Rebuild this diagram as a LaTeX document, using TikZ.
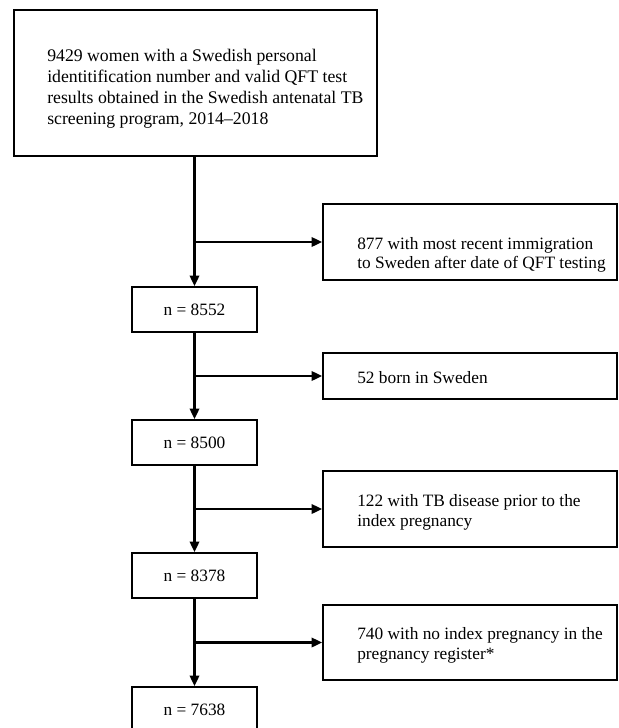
\documentclass[tikz,border=0pt]{standalone}
\usepackage{fontspec}
\setmainfont{Liberation Serif}
\usetikzlibrary{arrows.meta,calc}
\begin{document}
\begin{tikzpicture}[x=0.75pt,y=-0.75pt,
  box/.style={draw=black,line width=1.2pt,inner sep=0pt,fill=white},
  nbox/.style={box,minimum width=93.75pt,minimum height=33.75pt,font=\fontsize{13}{15}\selectfont},
  sidebox/.style={box,minimum width=220.5pt},
  txt/.style={inner sep=0pt,anchor=west,align=left,font=\fontsize{13}{15}\selectfont},
  arr/.style={line width=1.9pt,-{Triangle[length=8pt,width=7pt]}}]
\useasboundingbox (0,0) rectangle (618,728);
\clip (0,0) rectangle (618,728);
\fill[white] (0,0) rectangle (618,728);
% main column
\node[box,minimum width=272.25pt,minimum height=109.5pt] (top) at (195.5,83) {};
\node[txt,font=\fontsize{13.3}{15.8}\selectfont] (toptxt) at (47,89) {9429 women with a Swedish personal\\identitification number and valid QFT test\\results obtained in the Swedish antenatal TB\\screening program, 2014--2018};
\node[nbox] (n1) at (194.5,309.5) {n = 8552};
\node[nbox] (n2) at (194.5,442.5) {n = 8500};
\node[nbox] (n3) at (194.5,575.5) {n = 8378};
\node[nbox,minimum height=34.5pt] (n4) at (194.5,710) {n = 7638};
% side boxes
\node[sidebox,minimum height=57pt] (r1) at (470,242) {};
\node[txt,font=\fontsize{13}{14.2}\selectfont] (r1txt) at (357,255) {877 with most recent immigration\\to Sweden after date of QFT testing};
\node[sidebox,minimum height=34.5pt] (r2) at (470,376) {};
\node[txt] (r2txt) at (357,378) {52 born in Sweden};
\node[sidebox,minimum height=57pt] (r3) at (470,509) {};
\node[txt] (r3txt) at (357,512) {122 with TB disease prior to the\\index pregnancy};
\node[sidebox,minimum height=56.25pt] (r4) at (470,642.5) {};
\node[txt] (r4txt) at (357,645) {740 with no index pregnancy in the\\pregnancy register*};
% connectors
\draw[arr] (n1.north |- top.south) -- (n1.north);
\draw[arr] (n2.north |- n1.south) -- (n2.north);
\draw[arr] (n3.north |- n2.south) -- (n3.north);
\draw[arr] (n4.north |- n3.south) -- (n4.north);
\draw[arr] (n1.north |- r1.west) -- (r1.west);
\draw[arr] (n2.north |- r2.west) -- (r2.west);
\draw[arr] (n3.north |- r3.west) -- (r3.west);
\draw[arr] (n4.north |- r4.west) -- (r4.west);
\end{tikzpicture}
\end{document}
